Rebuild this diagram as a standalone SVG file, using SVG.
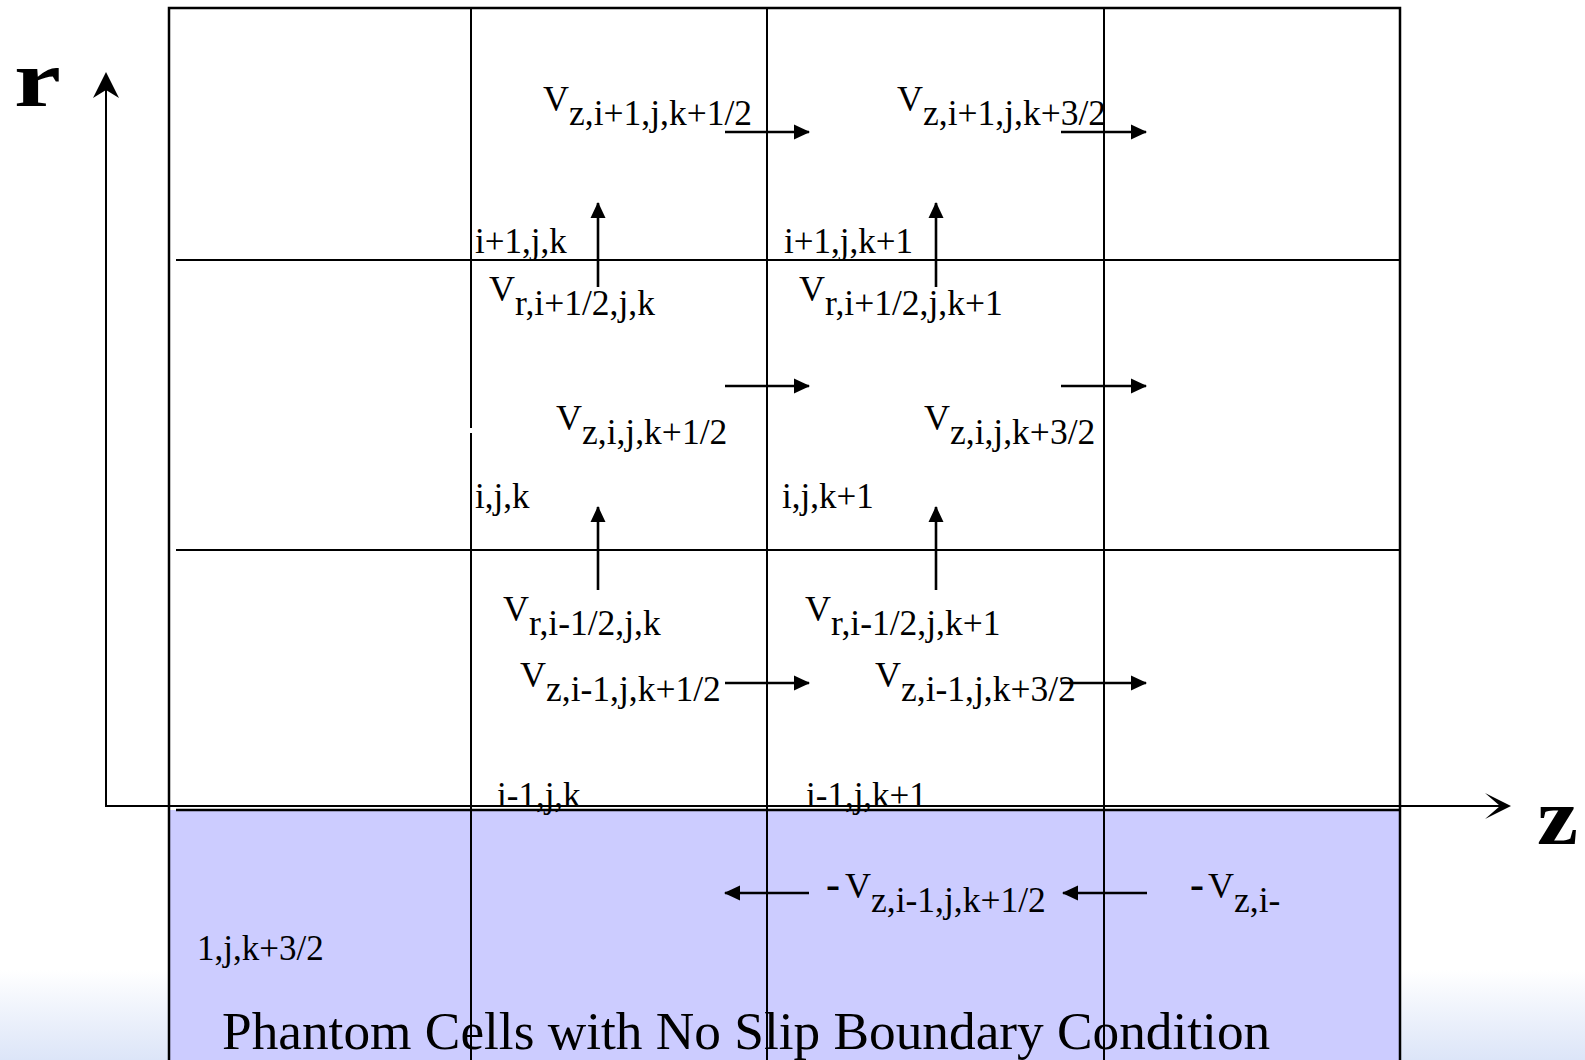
<svg xmlns="http://www.w3.org/2000/svg" width="1585" height="1060" viewBox="0 0 1585 1060">
<defs>
<linearGradient id="bg" x1="0" y1="0" x2="0" y2="1">
<stop offset="0" stop-color="#ffffff"/>
<stop offset="1" stop-color="#dce5f8"/>
</linearGradient>
<marker id="fh" viewBox="0 0 16 16" markerWidth="16" markerHeight="16" refX="15" refY="8" orient="auto" markerUnits="userSpaceOnUse">
<path d="M0,0.5 L16,8 L0,15.5 Z" fill="#000"/>
</marker>
</defs>
<style>
.g{stroke:#000;stroke-width:2;fill:none}
.b{stroke:#000;stroke-width:2.5;fill:none}
.ar{stroke:#000;stroke-width:2.6;fill:none;marker-end:url(#fh)}
.v{font-family:"Liberation Serif","Times New Roman",serif;font-size:36px;fill:#000}
.s{font-size:35.5px}
.m{font-weight:bold;font-size:42px}
.idx{font-family:"Liberation Serif","Times New Roman",serif;font-size:35px;fill:#000}
.ttl{font-family:"Liberation Serif","Times New Roman",serif;font-size:53.3px;fill:#000}
.ax{font-family:"Liberation Serif","Times New Roman",serif;font-weight:bold;font-size:80px;fill:#000}
</style>
<rect x="0" y="970" width="1585" height="90" fill="url(#bg)"/>
<rect id="phantom" x="169" y="810" width="1231" height="250" fill="#ccccff"/>
<g id="grid">
<path class="b" d="M169,1060 V8 H1400 V1060"/>
<path class="g" d="M471,8 V1060 M767,8 V1060 M1104,8 V1060"/>
<path class="g" d="M176,260 H1400 M176,550 H1400"/>
<path class="b" d="M176,810 H1400"/>
<rect x="469" y="428" width="3" height="5" fill="#fff"/>
</g>
<g id="axes">
<path class="g" d="M106,90 V806 H1500"/>
<path d="M106,72 L93,98 L106,90 L119,98 Z" fill="#000"/>
<path d="M1511,806 L1485,793 L1500,806 L1485,819 Z" fill="#000"/>
<text class="ax" x="14" y="106" textLength="47" lengthAdjust="spacingAndGlyphs">r</text>
<text class="ax" x="1537" y="844" font-size="77" textLength="41" lengthAdjust="spacingAndGlyphs">z</text>
</g>
<g id="connectors">
<line class="ar" x1="725" y1="132" x2="809" y2="132"/>
<line class="ar" x1="1061" y1="132" x2="1146" y2="132"/>
<line class="ar" x1="725" y1="386" x2="809" y2="386"/>
<line class="ar" x1="1061" y1="386" x2="1146" y2="386"/>
<line class="ar" x1="725" y1="683" x2="809" y2="683"/>
<line class="ar" x1="1061" y1="683" x2="1146" y2="683"/>
<line class="ar" x1="809" y1="893" x2="725" y2="893"/>
<line class="ar" x1="1147" y1="893" x2="1063" y2="893"/>
<line class="ar" x1="598" y1="287" x2="598" y2="203"/>
<line class="ar" x1="936" y1="287" x2="936" y2="203"/>
<line class="ar" x1="598" y1="590" x2="598" y2="507"/>
<line class="ar" x1="936" y1="590" x2="936" y2="507"/>
</g>
<g id="labels">
<text class="v" x="543" y="111">V<tspan class="s" dy="14">z,i+1,j,k+1/2</tspan></text>
<text class="v" x="897" y="111">V<tspan class="s" dy="14">z,i+1,j,k+3/2</tspan></text>
<text class="idx" x="475" y="253">i+1,j,k</text>
<text class="idx" x="784" y="253">i+1,j,k+1</text>
<text class="v" x="489" y="301">V<tspan class="s" dy="14">r,i+1/2,j,k</tspan></text>
<text class="v" x="799" y="301">V<tspan class="s" dy="14">r,i+1/2,j,k+1</tspan></text>
<text class="v" x="556" y="430">V<tspan class="s" dy="14">z,i,j,k+1/2</tspan></text>
<text class="v" x="924" y="430">V<tspan class="s" dy="14">z,i,j,k+3/2</tspan></text>
<text class="idx" x="475" y="508">i,j,k</text>
<text class="idx" x="782" y="508">i,j,k+1</text>
<text class="v" x="503" y="621">V<tspan class="s" dy="14">r,i-1/2,j,k</tspan></text>
<text class="v" x="805" y="621">V<tspan class="s" dy="14">r,i-1/2,j,k+1</tspan></text>
<text class="v" x="520" y="687">V<tspan class="s" dy="14">z,i-1,j,k+1/2</tspan></text>
<text class="v" x="875" y="687">V<tspan class="s" dy="14">z,i-1,j,k+3/2</tspan></text>
<text class="idx" x="497" y="807">i-1,j,k</text>
<text class="idx" x="806" y="807">i-1,j,k+1</text>
<text class="v" x="826" y="898"><tspan class="m">-</tspan><tspan x="845">V</tspan><tspan class="s" dy="14">z,i-1,j,k+1/2</tspan></text>
<text class="v" x="1190" y="898"><tspan class="m">-</tspan><tspan x="1208">V</tspan><tspan class="s" dy="14">z,i-</tspan></text>
<text class="idx" x="197" y="960">1,j,k+3/2</text>
<text class="ttl" x="222" y="1049">Phantom Cells with No Slip Boundary Condition</text>
</g>
</svg>
